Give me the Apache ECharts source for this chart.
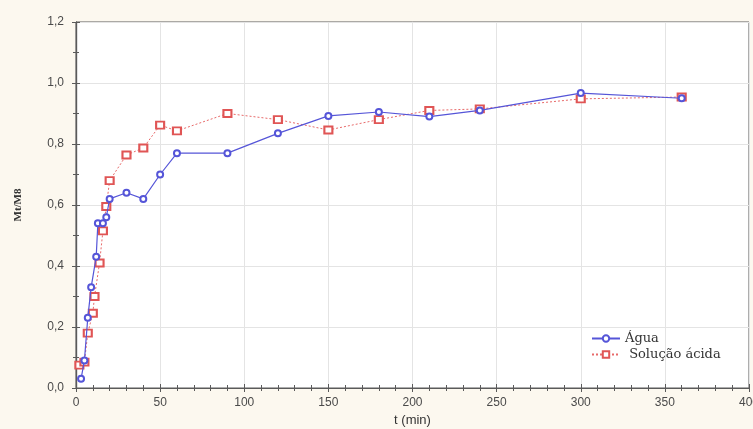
<!DOCTYPE html>
<html>
<head>
<meta charset="utf-8">
<script src="https://cdn.jsdelivr.net/npm/echarts@6/dist/echarts.min.js"></script>
<style>
  html, body { margin: 0; padding: 0; background: #fcf8ef; }
  #chart { width: 753px; height: 429px; }
</style>
</head>
<body>
<div id="chart"></div>
<script>
// Release kinetics: fraction released Mt/M∞ against time (min)
const aguaTime = [3, 5, 7, 9, 12, 13, 16, 18, 20, 30, 40, 50, 60, 90, 120, 150, 180, 210, 240, 300, 360];
const aguaValues = [0.03, 0.09, 0.23, 0.33, 0.43, 0.54, 0.54, 0.56, 0.62, 0.64, 0.62, 0.70, 0.77, 0.77, 0.835, 0.892, 0.905, 0.89, 0.91, 0.967, 0.95];

const acidaTime = [2, 5, 7, 10, 11, 14, 16, 18, 20, 30, 40, 50, 60, 90, 120, 150, 180, 210, 240, 300, 360];
const acidaValues = [0.075, 0.085, 0.18, 0.245, 0.30, 0.41, 0.515, 0.595, 0.68, 0.764, 0.787, 0.862, 0.843, 0.90, 0.88, 0.846, 0.88, 0.91, 0.915, 0.948, 0.954];

const xTicks = [0, 50, 100, 150, 200, 250, 300, 350, 400];
const yTicks = [0.0, 0.2, 0.4, 0.6, 0.8, 1.0, 1.2];

const pairs = (xs, ys) => xs.map((x, i) => [x, ys[i]]);

const axisColor = '#5a5a5a';
const labelStyle = { color: '#4a4a4a', fontFamily: 'Liberation Sans, Arial, sans-serif', fontSize: 12 };

function tickAxis(extra) {
  return Object.assign({
    axisLine: { show: true, lineStyle: { color: axisColor, width: 1.2 } },
    axisTick: { show: true, inside: true, length: 4, lineStyle: { color: axisColor } },
    splitLine: { show: false },
    axisLabel: { show: false }
  }, extra);
}

const chart = echarts.init(document.getElementById('chart'), null, { renderer: 'canvas' });
chart.setOption({
  backgroundColor: '#fcf8ef',
  animation: false,
  grid: {
    left: 76, right: 4, top: 22, bottom: 41, outerBoundsMode: 'none', containLabel: false,
    show: true, backgroundColor: '#ffffff', borderColor: axisColor, borderWidth: 1
  },
  legend: {
    left: 586, top: 327, orient: 'vertical', itemWidth: 28, itemHeight: 8, itemGap: 3,
    textStyle: { fontFamily: 'DejaVu Serif, Liberation Serif, serif', fontSize: 13, color: '#333' },
    formatter: name => name === 'Água' ? name : ' ' + name,
    data: ['Água', 'Solução ácida']
  },
  xAxis: [tickAxis({
    type: 'value', min: xTicks[0], max: xTicks[xTicks.length - 1], interval: 50,
    name: 't (min)', nameLocation: 'middle', nameGap: 24,
    nameTextStyle: { fontFamily: 'Liberation Sans, Arial, sans-serif', fontSize: 13, color: '#333' },
    minorTick: { show: true, splitNumber: 5, length: 3, lineStyle: { color: axisColor } },
    splitLine: { show: true, lineStyle: { color: '#e4e4e4' } },
    axisLabel: Object.assign({ margin: 9, formatter: v => String(v) }, labelStyle)
  }), tickAxis({
    type: 'value', position: 'top', min: 0, max: 400, interval: 50,
    minorTick: { show: true, splitNumber: 5, length: 3, lineStyle: { color: axisColor } }
  })],
  yAxis: [tickAxis({
    type: 'value', min: yTicks[0], max: yTicks[yTicks.length - 1], interval: 0.2,
    name: 'Mt/M8', nameLocation: 'middle', nameGap: 52, nameRotate: 90,
    nameTextStyle: { fontFamily: 'Liberation Serif, Times New Roman, serif', fontSize: 11, fontWeight: 'bold', color: '#333' },
    minorTick: { show: true, splitNumber: 2, length: 3, lineStyle: { color: axisColor } },
    splitLine: { show: true, lineStyle: { color: '#e4e4e4' } },
    axisLabel: Object.assign({ margin: 12, formatter: v => v.toFixed(1).replace('.', ',') }, labelStyle)
  }), tickAxis({
    type: 'value', position: 'right', min: 0, max: 1.2, interval: 0.2,
    minorTick: { show: true, splitNumber: 2, length: 3, lineStyle: { color: axisColor } }
  })],
  series: [{
    name: 'Água', type: 'line', xAxisIndex: 0, yAxisIndex: 0,
    data: pairs(aguaTime, aguaValues),
    symbol: 'emptyCircle', symbolSize: 6,
    itemStyle: { color: '#5555d8', borderWidth: 1 },
    lineStyle: { color: '#5555d8', width: 1.2 },
    z: 3
  }, {
    name: 'Solução ácida', type: 'line', xAxisIndex: 0, yAxisIndex: 0,
    data: pairs(acidaTime, acidaValues),
    symbol: 'emptyRect', symbolSize: [8, 7],
    itemStyle: { color: '#e05555', borderWidth: 1 },
    lineStyle: { color: '#e86a6a', width: 1, type: [2, 2] },
    z: 2
  }]
});
</script>
</body>
</html>
